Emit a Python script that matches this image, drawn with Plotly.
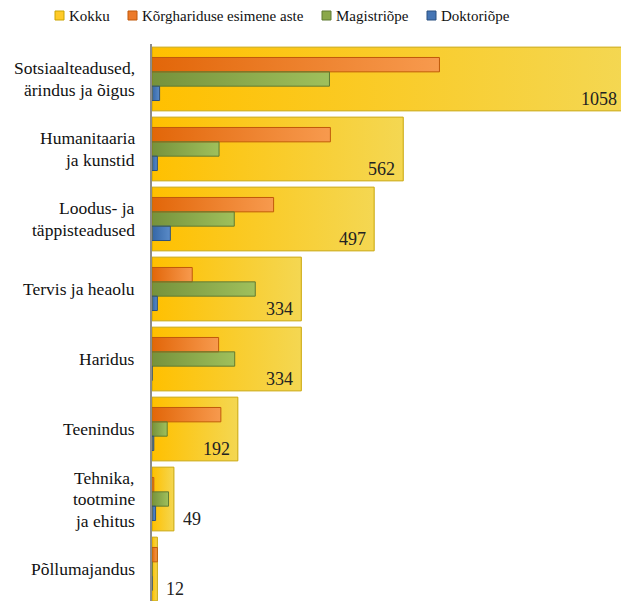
import base64
import plotly.graph_objects as go

# Fields of study and counts
categories = ["Sotsiaalteadused,<br>ärindus ja õigus", "Humanitaaria<br>ja kunstid",
              "Loodus- ja<br>täppisteadused", "Tervis ja heaolu", "Haridus", "Teenindus",
              "Tehnika,<br>tootmine<br>ja ehitus", "Põllumajandus"]
kokku = [1058, 562, 497, 334, 334, 192, 49, 12]
esimene = [643, 399, 272, 90, 149, 154, 4, 12]
magister = [397, 150, 184, 231, 185, 34, 37, 0]
doktor = [17, 12, 41, 12, 0, 4, 8, 0]

names = ["Kokku", "Kõrghariduse esimene aste", "Magistriõpe", "Doktoriõpe"]
FONT = "Liberation Serif"

# (values, center offset, width, gradient left, gradient right, border, legend swatch)
series = [
    (kokku, 0.0, 0.91, "#FFC000", "#F4D752", "#C9A400", "#FFCA28"),
    (esimene, -0.205, 0.205, "#E26609", "#F79A4E", "#C0580B", "#EC7A2A"),
    (magister, 0.0, 0.205, "#76923C", "#9FC05C", "#5E7A32", "#8AA84A"),
    (doktor, 0.205, 0.205, "#3466A6", "#5A8BC8", "#2A5080", "#4575B4"),
]

# page has an 8px body margin, so the figure is a bit smaller than the window
W, H = 621, 593
L, R, T, B = 144, 2, 36, 0
PW, PH = W - L - R, H - T - B
legend_left = [47, 120, 314, 419]   # swatch left edges in figure px
LINE_H = 21.5                       # category label line spacing


def grad_src(c1, c2):
    svg = ('<svg xmlns="http://www.w3.org/2000/svg" width="200" height="20" '
           'viewBox="0 0 200 20" preserveAspectRatio="none"><defs>'
           '<linearGradient id="g" x1="0" x2="1" y1="0" y2="0">'
           f'<stop offset="0" stop-color="{c1}"/><stop offset="1" stop-color="{c2}"/>'
           '</linearGradient></defs><rect width="200" height="20" fill="url(#g)"/></svg>')
    return "data:image/svg+xml;base64," + base64.b64encode(svg.encode()).decode()


def px2paper_x(px):
    return (px - L) / PW


def px2paper_y(py):
    return 1 - (py - T) / PH


idx = list(range(len(categories)))
fig = go.Figure()
images = []
shapes = []
annotations = []

for k, (name, (vals, off, w, c1, c2, border, sw)) in enumerate(zip(names, series)):
    src = grad_src(c1, c2)
    for i, v in zip(idx, vals):
        if v > 0:
            images.append(dict(source=src, xref="x", yref="y", x=0, y=i + off,
                               sizex=v, sizey=w, xanchor="left", yanchor="middle",
                               sizing="stretch", layer="below"))
    # outline bars (fill comes from gradient images)
    fig.add_trace(go.Bar(
        y=idx, x=vals, orientation="h", width=w, offset=off - w / 2, name=name,
        marker=dict(color="rgba(0,0,0,0)", line=dict(color=border, width=1)),
        showlegend=False, hovertemplate=name + ": %{x}<extra></extra>"))
    # legend swatch + label
    lx = legend_left[k]
    shapes.append(dict(type="rect", xref="paper", yref="paper",
                       x0=px2paper_x(lx), x1=px2paper_x(lx + 9),
                       y0=px2paper_y(3), y1=px2paper_y(12),
                       fillcolor=sw, line=dict(color=border, width=1)))
    annotations.append(dict(x=px2paper_x(lx + 12), y=px2paper_y(8), xref="paper", yref="paper",
                            text=name, showarrow=False, xanchor="left", yanchor="middle",
                            font=dict(family=FONT, size=15, color="#111")))

for i, v in zip(idx, kokku):
    inside = v >= 150
    annotations.append(dict(
        x=v, y=i + 0.29, xref="x", yref="y", text=str(v), showarrow=False,
        xanchor="right" if inside else "left", xshift=-6 if inside else 7,
        font=dict(family=FONT, size=18, color="#222")))

# right-aligned category labels, one annotation per line
for i, c in zip(idx, categories):
    lines = c.split("<br>")
    n = len(lines)
    for j, line in enumerate(lines):
        annotations.append(dict(
            x=0, y=i, xref="paper", yref="y", text=line, showarrow=False,
            xanchor="right", yanchor="middle", xshift=-15,
            yshift=((n - 1) / 2 - j) * LINE_H,
            font=dict(family=FONT, size=17.5, color="#111")))

fig.update_layout(
    width=W, height=H,
    margin=dict(l=L, r=R, t=T, b=B),
    barmode="overlay",
    showlegend=False,
    paper_bgcolor="white", plot_bgcolor="rgba(0,0,0,0)",
    images=images,
    shapes=shapes,
    annotations=annotations,
    font=dict(family=FONT, size=15, color="#111"),
    xaxis=dict(range=[0, 1062.5], visible=False),
    yaxis=dict(range=[7.457, -0.5], showticklabels=False,
               showgrid=False, zeroline=False, showline=True,
               linecolor="#8c8c8c", linewidth=2, ticks=""),
)

fig.write_html("out.html")
